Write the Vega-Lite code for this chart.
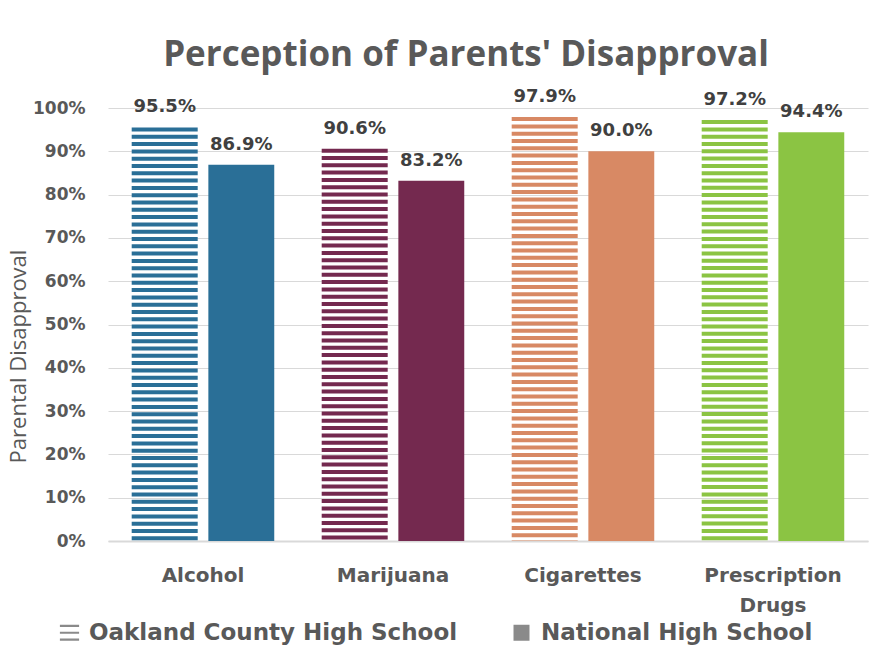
{
  "$schema": "https://vega.github.io/schema/vega-lite/v6.json",
  "width": 760,
  "height": 433,
  "autosize": {"type": "none"},
  "padding": {"left": 108, "top": 108, "right": 10, "bottom": 121},
  "background": "white",
  "config": {"view": {"stroke": null}},
  "title": {
    "text": "Perception of Parents' Disapproval",
    "font": "Open Sans",
    "fontSize": 35,
    "fontWeight": "bold",
    "color": "#595959",
    "anchor": "middle",
    "baseline": "alphabetic",
    "dx": -22,
    "offset": -17
  },
  "data": {
    "values": [
      {"drug": "Alcohol", "school": "Oakland County High School", "value": 0.955},
      {"drug": "Alcohol", "school": "National High School", "value": 0.869},
      {"drug": "Marijuana", "school": "Oakland County High School", "value": 0.906},
      {"drug": "Marijuana", "school": "National High School", "value": 0.832},
      {"drug": "Cigarettes", "school": "Oakland County High School", "value": 0.979},
      {"drug": "Cigarettes", "school": "National High School", "value": 0.900},
      {"drug": "Prescription Drugs", "school": "Oakland County High School", "value": 0.972},
      {"drug": "Prescription Drugs", "school": "National High School", "value": 0.944}
    ]
  },
  "encoding": {
    "x": {
      "field": "drug",
      "type": "nominal",
      "sort": ["Alcohol", "Marijuana", "Cigarettes", "Prescription Drugs"],
      "scale": {"paddingInner": 0.25, "paddingOuter": 0.125},
      "axis": {
        "title": null,
        "labelAngle": 0,
        "ticks": false,
        "labelPadding": 24,
        "labelFont": "DejaVu Sans",
        "labelFontSize": 20,
        "labelFontWeight": "bold",
        "labelColor": "#595959",
        "labelExpr": "split(datum.label, ' ')",
        "labelLineHeight": 30,
        "domainColor": "#d9d9d9",
        "domainWidth": 2
      }
    },
    "xOffset": {
      "field": "school",
      "type": "nominal",
      "sort": ["Oakland County High School", "National High School"],
      "scale": {"paddingInner": 0.14, "paddingOuter": 0}
    },
    "y": {
      "field": "value",
      "type": "quantitative",
      "scale": {"domain": [0, 1]},
      "axis": {
        "values": [0, 0.1, 0.2, 0.3, 0.4, 0.5, 0.6, 0.7, 0.8, 0.9, 1],
        "format": ".0%",
        "ticks": false,
        "domain": false,
        "labelPadding": 23,
        "gridColor": "#d9d9d9",
        "gridWidth": 1,
        "labelFont": "DejaVu Sans",
        "labelFontSize": 17,
        "labelFontWeight": "bold",
        "labelColor": "#595959",
        "title": "Parental Disapproval",
        "titleFont": "Open Sans",
        "titleFontSize": 22,
        "titleFontWeight": "normal",
        "titleColor": "#595959",
        "titlePadding": 2,
        "titleY": 248
      }
    }
  },
  "layer": [
    {
      "mark": {"type": "point", "filled": true, "opacity": 0, "color": "#8a8a8a"},
      "encoding": {
        "shape": {
          "field": "school",
          "type": "nominal",
          "scale": {
            "domain": ["Oakland County High School", "National High School"],
            "range": ["M-1.2,-1H1.2V-0.72H-1.2Z M-1.2,-0.14H1.2V0.14H-1.2Z M-1.2,0.72H1.2V1H-1.2Z", "square"]
          },
          "legend": {
            "orient": "none",
            "legendX": -50,
            "legendY": 513,
            "direction": "horizontal",
            "title": null,
            "labelFont": "DejaVu Sans",
            "labelFontSize": 23,
            "labelFontWeight": "bold",
            "labelColor": "#595959",
            "labelLimit": 0,
            "symbolSize": 256,
            "labelOffset": 8,
            "columnPadding": 52,
            "symbolFillColor": "#8a8a8a",
            "encode": {
              "symbols": {
                "update": {
                  "opacity": {"value": 1},
                  "fill": {"value": "#8a8a8a"},
                  "strokeWidth": {"value": 0}
                }
              }
            }
          }
        }
      }
    },
    {
      "transform": [{"filter": "datum.school == 'National High School'"}],
      "mark": {"type": "bar"},
      "encoding": {
        "color": {
          "field": "drug",
          "type": "nominal",
          "scale": {
            "domain": ["Alcohol", "Marijuana", "Cigarettes", "Prescription Drugs"],
            "range": ["#2a6f97", "#74294f", "#d88964", "#8bc443"]
          },
          "legend": null
        }
      }
    },
    {
      "transform": [{"filter": "datum.school == 'Oakland County High School'"}],
      "mark": {"type": "rule", "strokeWidth": 66, "strokeDash": [4, 3.3], "strokeCap": "butt"},
      "encoding": {
        "y2": {"datum": 0},
        "color": {
          "field": "drug",
          "type": "nominal",
          "scale": {
            "domain": ["Alcohol", "Marijuana", "Cigarettes", "Prescription Drugs"],
            "range": ["#2a6f97", "#74294f", "#d88964", "#8bc443"]
          },
          "legend": null
        }
      }
    },
    {
      "mark": {
        "type": "text",
        "baseline": "alphabetic",
        "dy": -15,
        "font": "DejaVu Sans",
        "fontSize": 18,
        "fontWeight": "bold",
        "color": "#404040"
      },
      "encoding": {
        "text": {"field": "value", "type": "quantitative", "format": ".1%"}
      }
    }
  ]
}
